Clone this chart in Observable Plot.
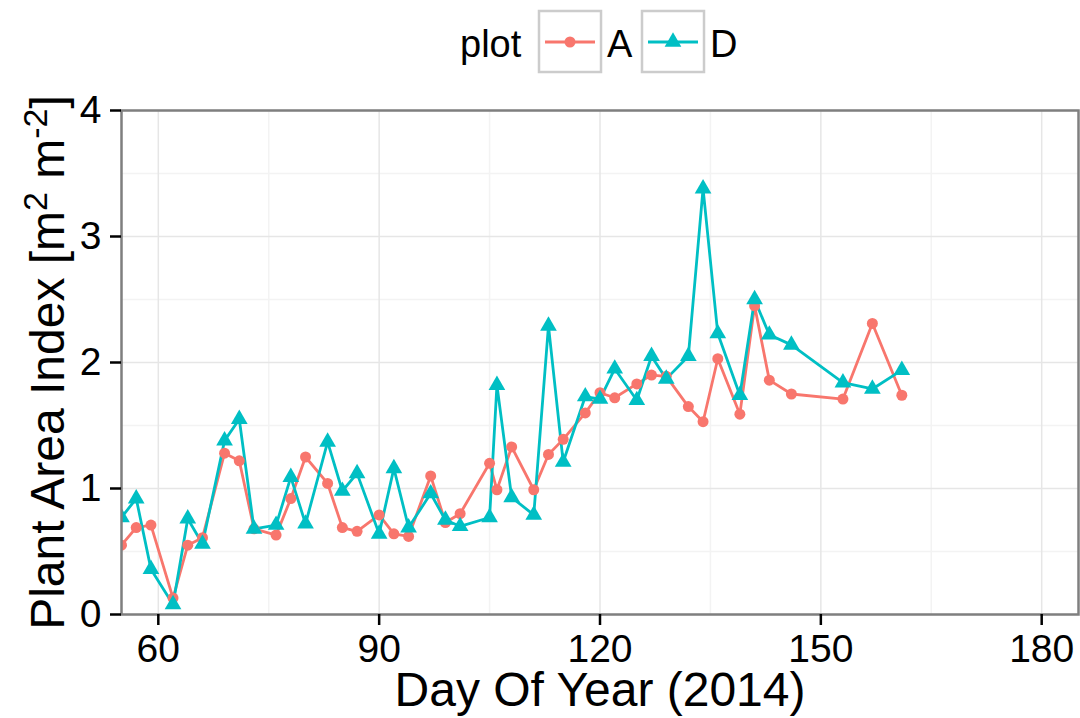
<!DOCTYPE html>
<html><head><meta charset="utf-8">
<script src="https://cdn.jsdelivr.net/npm/d3@7"></script>
<script src="https://cdn.jsdelivr.net/npm/@observablehq/plot@0.6"></script>
<style>
body{margin:0;background:#fff;font-family:"Liberation Sans",Arial,Helvetica,sans-serif;}
#legend{height:78px;}
#legend svg, #chart svg{display:block;}
</style></head><body>
<div id="legend"></div>
<div id="chart"></div>
<script>
const days = [55,57,59,62,64,66,69,71,73,76,78,80,83,85,87,90,92,94,97,99,101,105,106,108,111,113,115,118,120,122,125,127,129,132,134,136,139,141,143,146,153,157,161];
const plotA = [0.55,0.69,0.71,0.13,0.55,0.61,1.28,1.22,0.68,0.63,0.92,1.25,1.04,0.69,0.66,0.79,0.64,0.62,1.10,0.73,0.80,1.20,0.99,1.33,0.99,1.27,1.39,1.60,1.76,1.72,1.83,1.90,1.89,1.65,1.53,2.03,1.59,2.45,1.86,1.75,1.71,2.31,1.74];
const plotD = [0.77,0.92,0.36,0.08,0.76,0.56,1.38,1.55,0.68,0.71,1.09,0.72,1.37,0.98,1.12,0.64,1.16,0.69,0.96,0.75,0.70,0.77,1.82,0.93,0.79,2.29,1.21,1.73,1.71,1.95,1.70,2.05,1.87,2.05,3.38,2.23,1.74,2.50,2.22,2.14,1.84,1.79,1.94];
const seriesNames = ["A","D"];
const seriesColors = ["#F8766D","#00BFC4"];
const xTicks = [60,90,120,150,180];
const yTicks = [0,1,2,3,4];
const xMinor = [75,105,135,165];
const yMinor = [0.5,1.5,2.5,3.5];
const xTitle = "Day Of Year (2014)";
const yTitle = "Plant Area Index [m2 m-2]";
const legendTitle = "plot";

const font = "'Liberation Sans', Arial, Helvetica, sans-serif";
const rowsA = days.map((d,i)=>({day:d, pai:plotA[i], plot:seriesNames[0]}));
const rowsD = days.map((d,i)=>({day:d, pai:plotD[i], plot:seriesNames[1]}));

// Legend
const lg = d3.select("#legend").append("svg").attr("width",1080).attr("height",78)
  .style("font-family", font);
lg.append("text").attr("x",460).attr("y",57).attr("font-size",38).text(legendTitle);
const boxes = [{x:539, name:seriesNames[0], color:seriesColors[0], sym:"circle"},
               {x:642, name:seriesNames[1], color:seriesColors[1], sym:"triangle"}];
boxes.forEach(b=>{
  lg.append("rect").attr("x",b.x).attr("y",11).attr("width",62).attr("height",61)
    .attr("fill","white").attr("stroke","#CCCCCC").attr("stroke-width",2.5);
  lg.append("line").attr("x1",b.x+6).attr("x2",b.x+56).attr("y1",42).attr("y2",42)
    .attr("stroke",b.color).attr("stroke-width",2.8);
  if (b.sym==="circle") {
    lg.append("circle").attr("cx",b.x+31).attr("cy",42).attr("r",5.5).attr("fill",b.color);
  } else {
    lg.append("path").attr("transform",`translate(${b.x+31},42)`)
      .attr("d", d3.symbol(d3.symbolTriangle, Math.PI*6.2*6.2)()).attr("fill",b.color);
  }
  lg.append("text").attr("x",b.x+68).attr("y",57).attr("font-size",38).text(b.name);
});

const chart = Plot.plot({
  width: 1080,
  height: 640,
  marginLeft: 121,
  marginRight: 2,
  marginTop: 32,
  marginBottom: 104,
  style: {fontFamily: font, background: "white", color: "black"},
  x: {domain: [55, 185]},
  y: {domain: [0, 4]},
  marks: [
    Plot.ruleX(xMinor, {stroke: "#F3F3F3", strokeWidth: 1.5}),
    Plot.ruleY(yMinor, {stroke: "#F3F3F3", strokeWidth: 1.5}),
    Plot.ruleX(xTicks, {stroke: "#E6E6E6", strokeWidth: 1.5}),
    Plot.ruleY(yTicks, {stroke: "#E6E6E6", strokeWidth: 1.5}),
    Plot.lineY(rowsA, {x: "day", y: "pai", stroke: seriesColors[0], strokeWidth: 2.8, clip: true}),
    Plot.lineY(rowsD, {x: "day", y: "pai", stroke: seriesColors[1], strokeWidth: 2.8, clip: true}),
    Plot.dot(rowsA, {x: "day", y: "pai", fill: seriesColors[0], r: 5.5, symbol: "circle", clip: true}),
    Plot.dot(rowsD, {x: "day", y: "pai", fill: seriesColors[1], r: 6.2, symbol: "triangle", clip: true}),
    Plot.frame({stroke: "#7F7F7F", strokeWidth: 2.5}),
    Plot.axisX({ticks: xTicks, tickSize: 11, tickPadding: 9, fontSize: 39, strokeWidth: 2.5, tickFormat: d3.format("d"), label: null}),
    Plot.axisY({ticks: yTicks, tickSize: 11, tickPadding: 9, fontSize: 39, strokeWidth: 2.5, tickFormat: d3.format("d"), label: null}),
    Plot.text([xTitle], {frameAnchor: "bottom", dy: 91, lineAnchor: "bottom", textAnchor: "middle", fontSize: 48, fill: "black"}),
    Plot.text([yTitle], {frameAnchor: "left", dx: -58, rotate: -90, lineAnchor: "bottom", textAnchor: "middle", fontSize: 48, fill: "black"})
  ]
});
document.getElementById("chart").appendChild(chart);

// superscripts in y title
chart.querySelectorAll("text").forEach(t => {
  if (t.textContent === yTitle) {
    const parts = [["Plant Area Index [m", false], ["2", true], [" m", false], ["-2", true], ["]", false]];
    t.textContent = "";
    let raised = false;
    parts.forEach(([s, sup]) => {
      const ts = document.createElementNS("http://www.w3.org/2000/svg", "tspan");
      ts.textContent = s;
      if (sup) { ts.setAttribute("font-size", 34); ts.setAttribute("dy", -17); raised = true; }
      else if (raised) { ts.setAttribute("dy", 17); raised = false; }
      t.appendChild(ts);
    });
  }
});
</script>
</body></html>
